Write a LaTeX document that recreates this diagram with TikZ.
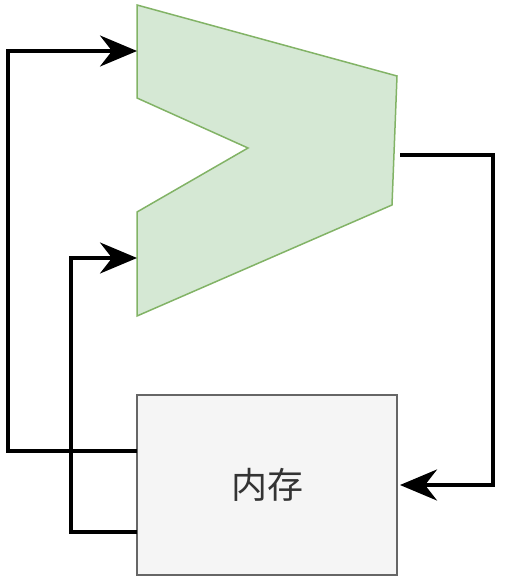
\documentclass[tikz,border=0pt]{standalone}
\usepackage{fontspec}
\newfontfamily\cjk{Noto Sans CJK SC}
\usetikzlibrary{arrows.meta}
\definecolor{alufill}{HTML}{D5E8D4}
\definecolor{aluline}{HTML}{82B366}
\definecolor{memfill}{HTML}{F5F5F5}
\definecolor{memline}{HTML}{666666}
\definecolor{memtext}{HTML}{333333}
\tikzset{
  wire/.style={line width=3.5pt, draw=black, -{Stealth[length=37pt,width=31pt,inset=12pt]}},
  membox/.style={draw=memline, fill=memfill, line width=1.5pt, minimum width=260pt, minimum height=180pt, inner sep=0pt, font=\cjk\fontsize{36}{40}\selectfont, text=memtext},
}
\begin{document}
\begin{tikzpicture}[x=1pt,y=-1pt]
\useasboundingbox (0,0) rectangle (504,580);
% ALU
\draw[fill=alufill, draw=aluline, line width=1.5pt]
  (137,5) -- (397,76) -- (392,205) -- (137,316) -- (137,212) -- (248,148) -- (137,98) -- cycle;
\coordinate (inA) at (137,51);
\coordinate (inB) at (137,258);
\coordinate (out) at (400,155);
% memory
\node[membox] (mem) at (267,485) {内存};
\coordinate (memL1) at (137,451);
\coordinate (memL2) at (137,532);
\coordinate (memR) at (400,485);
% connectors
\draw[wire] (memL1) -- (8,451) -- (8,51) -- (inA);
\draw[wire] (memL2) -- (71,532) -- (71,258) -- (inB);
\draw[wire] (out) -- (493,155) -- (493,485) -- (memR);
\end{tikzpicture}
\end{document}
